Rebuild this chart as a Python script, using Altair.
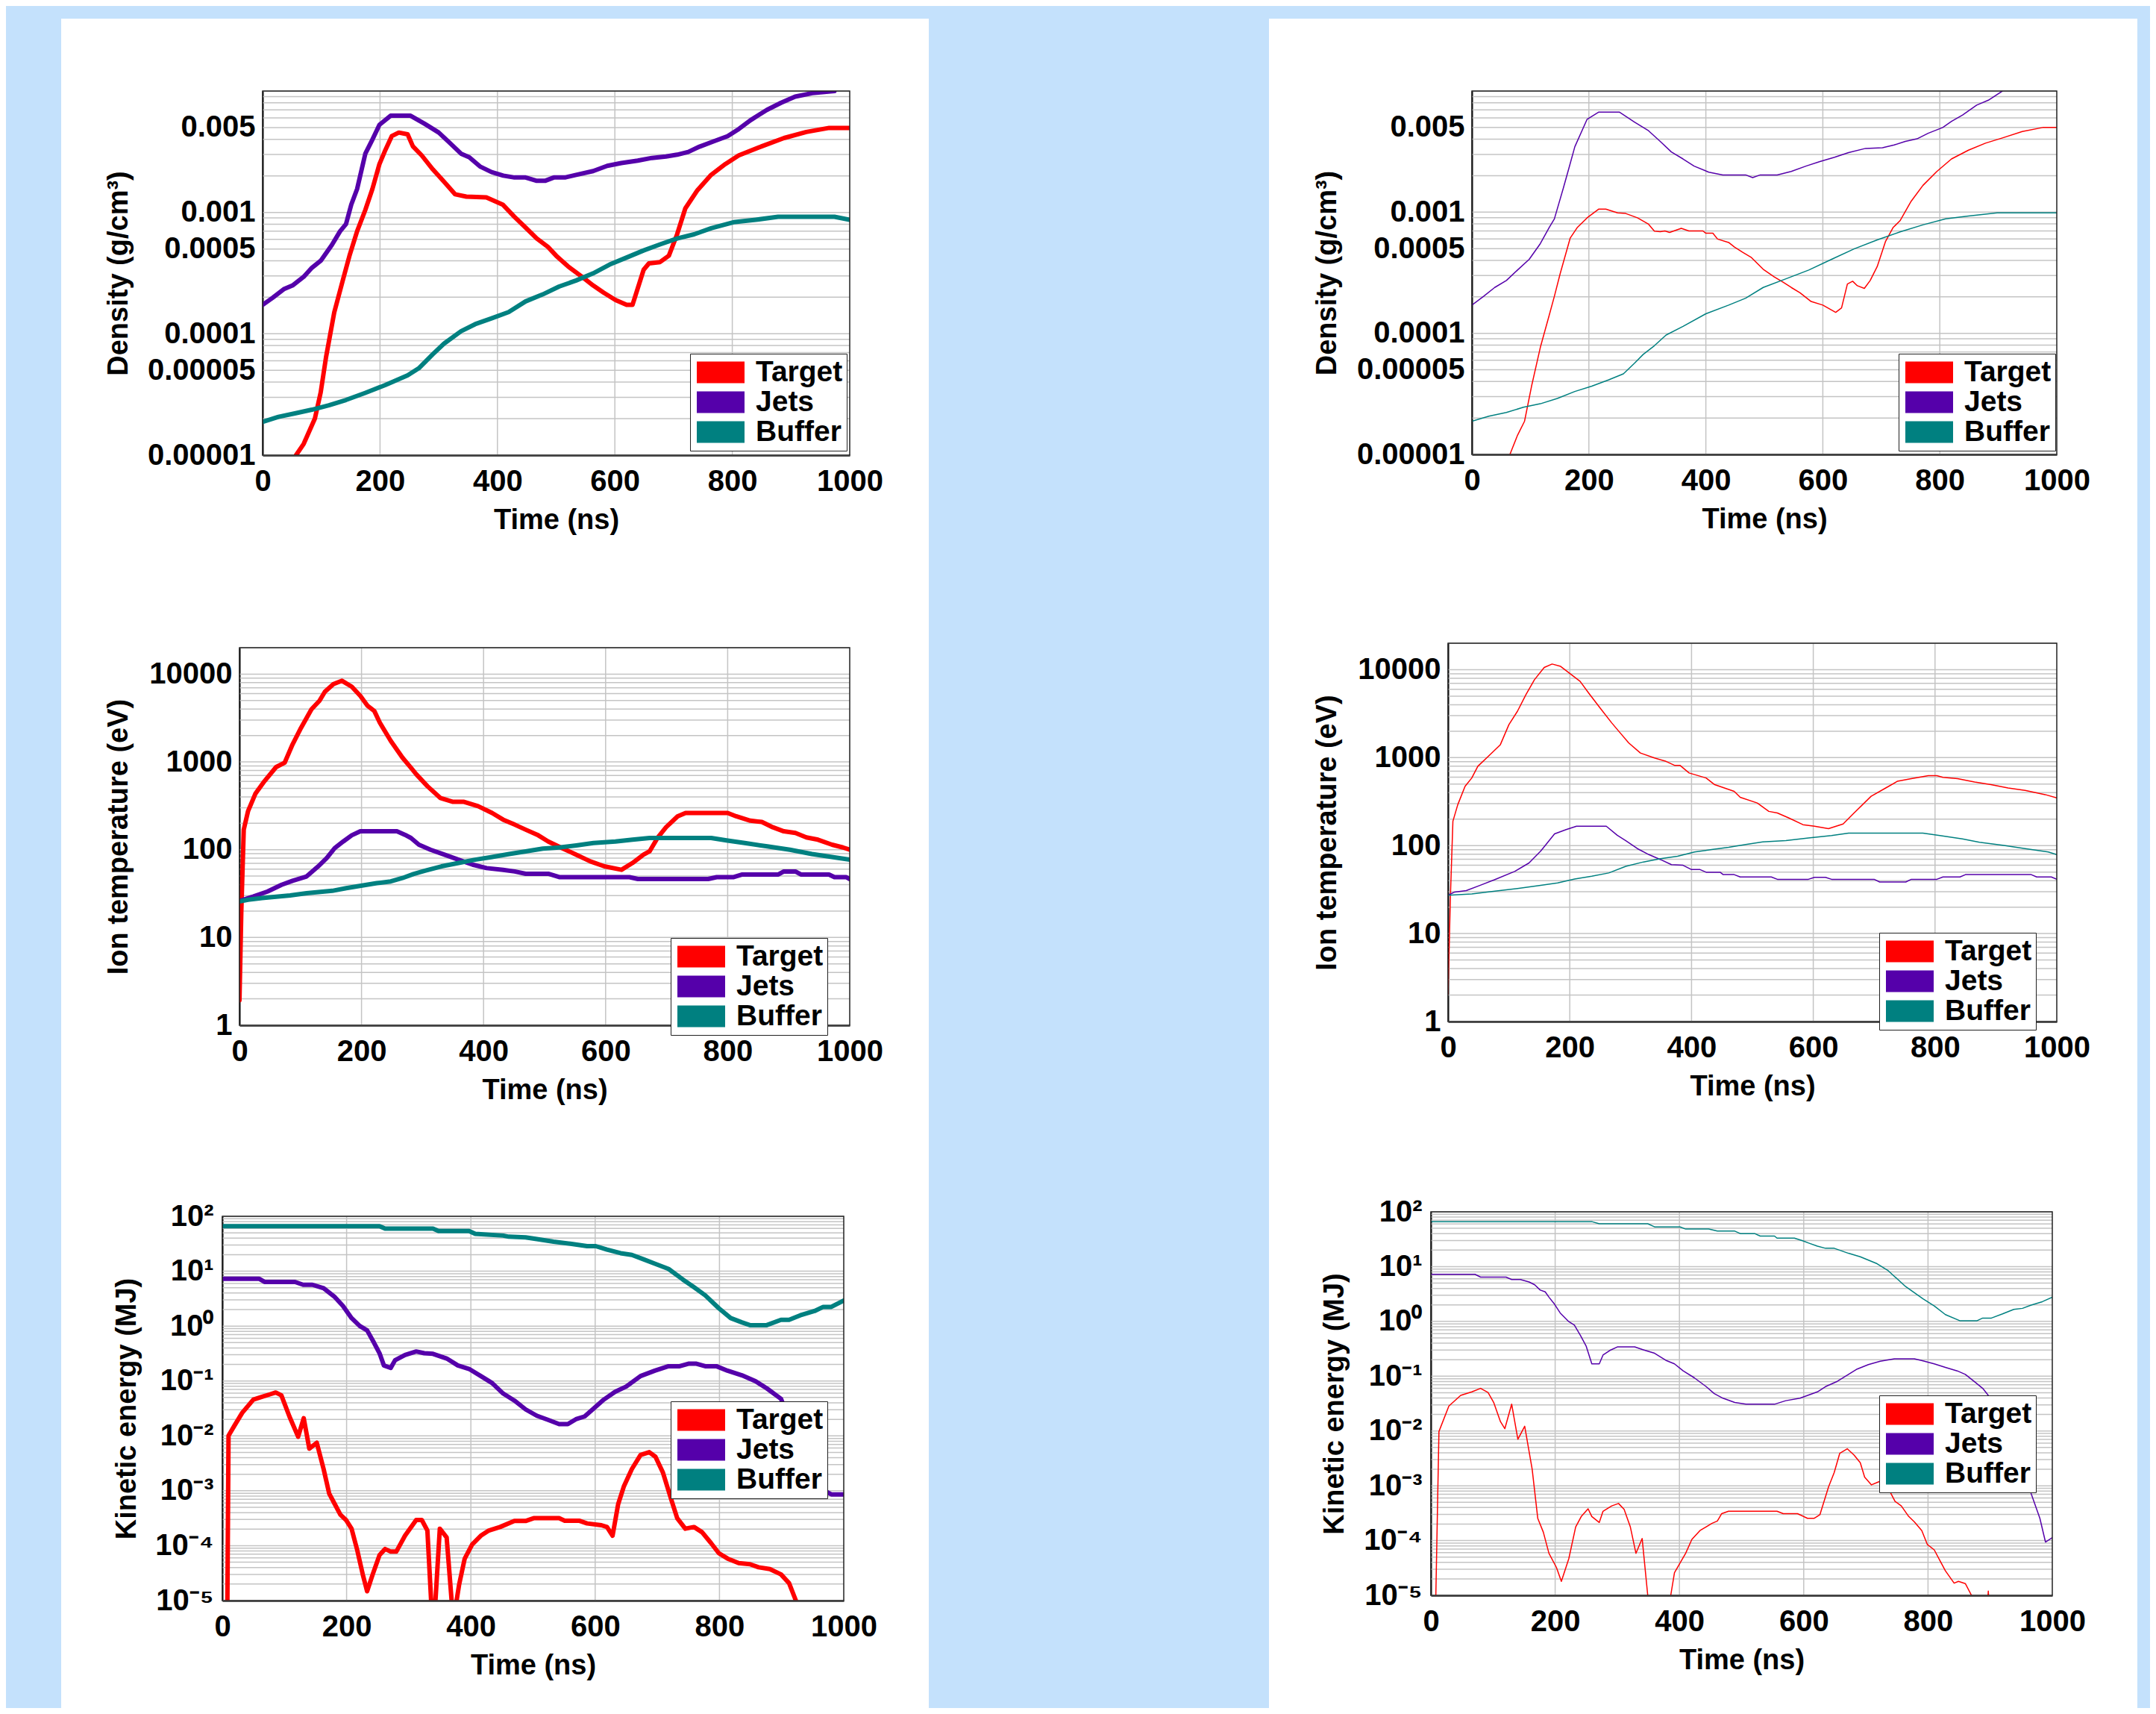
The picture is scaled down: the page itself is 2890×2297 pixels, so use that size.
import math
import altair as alt
import pandas as pd

FONT = "Liberation Sans"
SERIES = ["Target", "Jets", "Buffer"]
COLORS = ["#FF0000", "#5500AA", "#008080"]
BLUE = "#C4E1FC"
GRID = "#C4C4C4"

X_TICKS = [0, 200, 400, 600, 800, 1000]
X_GRID = [200, 400, 600, 800]

DENSITY_DOMAIN = [1e-5, 1e-2]
DENSITY_TICKS = [1e-5, 5e-5, 1e-4, 5e-4, 1e-3, 5e-3]
DENSITY_LABELS = ["0.00001", "0.00005", "0.0001", "0.0005", "0.001", "0.005"]
TEMP_DOMAIN = [1, 20000]
TEMP_TICKS = [1, 10, 100, 1000, 10000]
TEMP_LABELS = ["1", "10", "100", "1000", "10000"]
KE_DOMAIN = [1e-5, 1e2]
KE_TICKS = [1e-5, 1e-4, 1e-3, 1e-2, 0.1, 1, 10, 100]
KE_LABELS = ["10⁻⁵", "10⁻⁴", "10⁻³", "10⁻²", "10⁻¹", "10⁰", "10¹", "10²"]

# ---------------- left column (thick lines) ----------------
DEN_L_TARGET = [(57,1e-5),(70,1.24e-5),(89,2.0e-5),(99,3.3e-5),(108,6.4e-5),(122,1.5e-4),(137,2.8e-4),(148,4.4e-4),(161,7.0e-4),(175,1.05e-3),(187,1.56e-3),(199,2.5e-3),(209,3.26e-3),(220,4.25e-3),(232,4.55e-3),(247,4.4e-3),(256,3.5e-3),(271,2.95e-3),(290,2.26e-3),(309,1.79e-3),(328,1.41e-3),(347,1.35e-3),(381,1.33e-3),(409,1.16e-3),(429,9.2e-4),(448,7.5e-4),(467,6.1e-4),(486,5.2e-4),(500,4.4e-4),(520,3.6e-4),(544,2.95e-4),(563,2.5e-4),(581,2.18e-4),(601,1.9e-4),(620,1.73e-4),(630,1.73e-4),(649,3.37e-4),(658,3.8e-4),(677,3.9e-4),(692,4.4e-4),(706,6.6e-4),(720,1.08e-3),(740,1.51e-3),(764,2.04e-3),(788,2.5e-3),(811,2.95e-3),(850,3.5e-3),(888,4.1e-3),(926,4.6e-3),(965,4.97e-3),(1000,4.97e-3)]
DEN_L_JETS = [(0,1.73e-4),(17,1.98e-4),(36,2.33e-4),(51,2.5e-4),(70,2.95e-4),(84,3.5e-4),(99,4.0e-4),(118,5.4e-4),(132,7.0e-4),(142,8.0e-4),(151,1.16e-3),(161,1.56e-3),(175,3.05e-3),(187,3.98e-3),(199,5.27e-3),(218,6.26e-3),(252,6.26e-3),(276,5.37e-3),(300,4.55e-3),(319,3.73e-3),(338,3.05e-3),(352,2.85e-3),(371,2.38e-3),(390,2.15e-3),(410,2.01e-3),(429,1.94e-3),(448,1.94e-3),(467,1.82e-3),(481,1.82e-3),(496,1.94e-3),(515,1.94e-3),(534,2.04e-3),(563,2.19e-3),(587,2.42e-3),(611,2.55e-3),(639,2.67e-3),(663,2.81e-3),(687,2.89e-3),(706,2.99e-3),(725,3.15e-3),(744,3.48e-3),(768,3.85e-3),(792,4.25e-3),(811,4.86e-3),(831,5.75e-3),(859,7.0e-3),(883,8.0e-3),(907,9.0e-3),(936,9.6e-3),(974,1.0e-2)]
DEN_L_BUFFER = [(0,1.88e-5),(27,2.07e-5),(55,2.21e-5),(84,2.37e-5),(113,2.58e-5),(142,2.85e-5),(175,3.26e-5),(209,3.78e-5),(247,4.55e-5),(266,5.2e-5),(290,6.8e-5),(309,8.3e-5),(338,1.05e-4),(362,1.2e-4),(390,1.34e-4),(419,1.51e-4),(448,1.85e-4),(477,2.11e-4),(505,2.45e-4),(534,2.75e-4),(563,3.15e-4),(591,3.72e-4),(620,4.25e-4),(649,4.86e-4),(677,5.45e-4),(706,6.1e-4),(735,6.6e-4),(764,7.4e-4),(802,8.3e-4),(840,8.7e-4),(878,9.2e-4),(974,9.2e-4),(1000,8.7e-4)]

TMP_L_TARGET = [(0,1.93),(3,19.7),(7,169),(14,274),(26,433),(41,604),(60,873),(74,978),(87,1585),(101,2455),(118,3980),(131,4955),(140,6300),(154,7700),(168,8400),(184,7200),(198,5650),(210,4350),(221,3800),(230,2800),(248,1730),(267,1120),(281,858),(290,720),(308,529),(329,389),(350,351),(368,351),(391,313),(414,262),(432,220),(451,193),(469,169),(488,148),(506,124),(529,104),(552,87.7),(575,73.6),(598,64.6),(626,59),(644,70.5),(662,87.7),(672,95.7),(685,136),(699,180),(718,240),(731,262),(800,262),(814,240),(837,214),(856,207),(874,180),(892,162),(911,155),(929,138),(948,130),(971,114),(989,106),(1000,100)]
TMP_L_JETS = [(0,26.1),(23,29.3),(46,33.4),(69,39.8),(87,44.2),(110,49.6),(129,64.6),(143,80.4),(156,104),(170,124),(184,146),(198,162),(258,162),(271,148),(281,136),(294,114),(313,100),(336,87.7),(359,76.9),(382,67.5),(405,61.7),(432,59),(451,56.5),(469,53.2),(506,53.2),(524,48.7),(639,48.7),(653,46.3),(768,46.3),(782,48.7),(810,48.7),(824,52.2),(883,52.2),(892,56.5),(911,56.5),(920,52.2),(966,52.2),(975,48.7),(994,48.7),(1000,46.3)]
TMP_L_BUFFER = [(0,25.7),(14,26.9),(37,28.1),(83,30.1),(110,32),(152,34),(175,36.5),(225,41.6),(248,43.5),(267,47.5),(285,52.7),(304,57.5),(331,64.6),(359,70.5),(386,76.9),(414,82.5),(442,89.2),(469,95.7),(497,103),(524,106),(552,112),(580,119),(616,124),(644,130),(672,136),(773,136),(800,127),(828,119),(865,109),(902,100),(938,89.2),(975,81.7),(1000,76.9)]

KE_L_TARGET = [(8,5e-6),(10,0.0101),(20,0.0157),(32,0.0263),(50,0.0459),(63,0.051),(77,0.0573),(86,0.0617),(95,0.0548),(108,0.0226),(122,0.00966),(131,0.021),(140,0.00585),(152,0.0075),(163,0.00249),(172,8.9e-4),(181,5.71e-4),(190,3.67e-4),(199,2.94e-4),(208,2.04e-4),(217,8.4e-5),(226,3.0e-5),(233,1.48e-5),(242,3.0e-5),(253,6.76e-5),(262,8.7e-5),(271,7.8e-5),(280,7.8e-5),(294,1.52e-4),(312,2.94e-4),(321,2.94e-4),(330,1.89e-4),(336,1e-5),(337,5e-6),(342,5e-6),(343,1e-5),(350,2.04e-4),(361,1.41e-4),(369,1e-5),(370,5e-6),(376,5e-6),(377,1e-5),(381,1.93e-5),(390,5.8e-5),(402,1.05e-4),(416,1.52e-4),(429,1.89e-4),(447,2.19e-4),(470,2.82e-4),(488,2.82e-4),(501,3.17e-4),(542,3.17e-4),(551,2.85e-4),(574,2.85e-4),(587,2.54e-4),(610,2.36e-4),(619,2.19e-4),(628,1.52e-4),(637,5.71e-4),(646,1.19e-3),(659,2.49e-3),(673,4.49e-3),(687,5.05e-3),(697,4.17e-3),(709,2.15e-3),(723,6.6e-4),(732,3.17e-4),(745,2.04e-4),(759,2.19e-4),(772,1.76e-4),(786,1.13e-4),(799,7.3e-5),(813,5.83e-5),(831,4.82e-5),(849,4.6e-5),(863,4.04e-5),(881,3.75e-5),(899,3.0e-5),(912,2.08e-5),(923,1e-5),(925,5e-6)]
KE_L_JETS = [(0,7.28),(59,7.28),(68,6.37),(117,6.37),(130,5.66),(145,5.66),(163,4.89),(181,3.38),(194,2.34),(208,1.4),(221,1.01),(233,0.835),(244,0.5),(253,0.32),(260,0.192),(271,0.173),(278,0.239),(294,0.298),(312,0.345),(325,0.32),(339,0.312),(361,0.257),(379,0.192),(397,0.166),(416,0.123),(434,0.0919),(452,0.059),(470,0.044),(488,0.0304),(506,0.0233),(524,0.0196),(542,0.0164),(556,0.0164),(569,0.0201),(583,0.0226),(596,0.0304),(614,0.0459),(632,0.0635),(650,0.0793),(673,0.123),(696,0.154),(718,0.186),(736,0.186),(750,0.206),(763,0.206),(777,0.186),(795,0.186),(813,0.154),(836,0.127),(858,0.099),(876,0.0736),(899,0.0473),(953,1.49e-3),(967,1.03e-3),(980,8.6e-4),(1000,8.6e-4)]
KE_L_BUFFER = [(0,66.2),(253,66.2),(262,59.7),(339,59.7),(348,53.8),(397,53.8),(407,47.9),(452,44.5),(461,42.5),(488,41.3),(506,38.4),(533,34.6),(560,31.7),(587,28.6),(601,28.6),(619,24.7),(641,21.3),(659,19.8),(677,16.6),(696,13.7),(718,11),(741,7.06),(759,5.1),(777,3.64),(799,2.11),(818,1.4),(836,1.17),(849,1.04),(876,1.04),(899,1.3),(912,1.3),(930,1.57),(953,1.88),(967,2.24),(980,2.24),(1000,2.92)]

# ---------------- right column (thin lines) ----------------
DEN_R_TARGET = [(65,1e-5),(78,1.44e-5),(90,1.88e-5),(102,3.66e-5),(117,7.65e-5),(132,1.4e-4),(141,2.02e-4),(151,3.12e-4),(168,6.1e-4),(180,7.45e-4),(197,8.98e-4),(217,1.06e-3),(229,1.06e-3),(249,9.87e-4),(263,9.75e-4),(283,8.98e-4),(302,7.96e-4),(312,6.97e-4),(322,6.9e-4),(330,7.0e-4),(338,6.8e-4),(358,7.35e-4),(371,7.0e-4),(395,7.0e-4),(400,6.7e-4),(412,6.7e-4),(420,6.0e-4),(439,5.62e-4),(449,5.15e-4),(463,4.66e-4),(478,4.22e-4),(498,3.38e-4),(517,2.92e-4),(532,2.64e-4),(546,2.39e-4),(561,2.16e-4),(580,1.83e-4),(600,1.71e-4),(622,1.49e-4),(632,1.62e-4),(642,2.55e-4),(651,2.69e-4),(659,2.47e-4),(671,2.35e-4),(681,2.73e-4),(693,3.56e-4),(707,5.7e-4),(720,7.45e-4),(732,8.5e-4),(751,1.23e-3),(771,1.66e-3),(795,2.17e-3),(820,2.75e-3),(849,3.25e-3),(878,3.71e-3),(907,4.1e-3),(941,4.63e-3),(976,5.0e-3),(1000,5.0e-3)]
DEN_R_JETS = [(0,1.71e-4),(20,2.02e-4),(39,2.39e-4),(59,2.73e-4),(78,3.33e-4),(98,4.08e-4),(117,5.5e-4),(132,7.45e-4),(141,8.8e-4),(156,1.56e-3),(166,2.32e-3),(176,3.47e-3),(197,5.85e-3),(217,6.7e-3),(252,6.7e-3),(278,5.55e-3),(302,4.7e-3),(322,3.84e-3),(341,3.14e-3),(361,2.75e-3),(380,2.4e-3),(405,2.14e-3),(429,2.03e-3),(468,2.03e-3),(480,1.93e-3),(493,2.03e-3),(522,2.03e-3),(546,2.17e-3),(571,2.4e-3),(595,2.62e-3),(620,2.84e-3),(644,3.1e-3),(673,3.36e-3),(702,3.4e-3),(722,3.59e-3),(741,3.84e-3),(761,4.03e-3),(780,4.48e-3),(805,5.0e-3),(820,5.62e-3),(839,6.34e-3),(863,7.65e-3),(883,8.4e-3),(907,1.0e-2)]
DEN_R_BUFFER = [(0,1.88e-5),(29,2.07e-5),(59,2.22e-5),(88,2.45e-5),(117,2.62e-5),(146,2.9e-5),(176,3.31e-5),(205,3.66e-5),(234,4.13e-5),(259,4.63e-5),(278,5.66e-5),(293,6.7e-5),(312,7.9e-5),(332,9.67e-5),(361,1.14e-4),(400,1.45e-4),(439,1.71e-4),(468,1.95e-4),(498,2.39e-4),(537,2.82e-4),(576,3.33e-4),(615,4.08e-4),(654,4.99e-4),(693,5.9e-4),(732,6.87e-4),(771,7.85e-4),(810,8.8e-4),(849,9.3e-4),(898,9.86e-4),(1000,9.86e-4)]

TMP_R_TARGET = [(0,2.03),(4,27.7),(8,189),(16,292),(28,472),(39,587),(49,798),(72,1131),(86,1406),(100,2371),(114,3363),(128,5200),(142,7700),(158,10600),(171,11600),(185,10900),(199,9170),(217,7360),(231,5430),(250,3660),(269,2480),(283,1905),(297,1468),(316,1130),(339,991),(358,908),(372,818),(381,818),(396,670),(424,587),(438,493),(470,414),(480,354),(508,305),(527,245),(541,235),(560,206),(583,173),(602,166),(625,156),(649,176),(667,235),(695,364),(719,452),(738,538),(761,577),(789,624),(803,624),(813,597),(837,577),(865,528),(892,493),(920,452),(948,425),(981,380),(1000,348)]
TMP_R_JETS = [(0,27.3),(11,29.7),(30,30.8),(53,35.4),(77,41.1),(110,51.1),(133,63.5),(152,86.2),(161,103),(175,136),(194,152),(211,166),(260,166),(278,131),(292,114),(311,92.5),(330,79),(349,69.4),(367,60.8),(386,59.8),(400,53.4),(414,53.4),(424,49.8),(447,49.8),(452,46.8),(470,46.8),(480,44),(531,44),(541,41.4),(592,41.4),(602,43.6),(620,43.6),(630,41.4),(700,41.4),(709,38.6),(752,38.6),(761,41.4),(803,41.4),(813,44),(841,44),(850,46.8),(958,46.8),(967,44),(991,44),(1000,41.4)]
TMP_R_BUFFER = [(0,27.3),(39,28.2),(77,30.3),(114,32.5),(152,35.4),(180,37.6),(208,41.8),(236,44.9),(264,48.9),(292,58.2),(321,65.2),(349,71.1),(377,75.7),(405,84.7),(433,90.1),(461,95.8),(489,103),(517,110),(555,114),(592,122),(630,130),(658,139),(780,139),(808,130),(845,119),(873,109),(911,101),(948,92.5),(986,84.7),(1000,79)]

KE_R_TARGET = [(6,5e-6),(8,1e-5),(13,0.0098),(29,0.0286),(48,0.0447),(66,0.0518),(80,0.06),(92,0.0503),(101,0.0333),(112,0.0148),(119,0.011),(130,0.0309),(140,0.00706),(151,0.0122),(163,0.00201),(172,2.55e-4),(181,1.42e-4),(190,5.85e-5),(202,3.24e-5),(210,1.8e-5),(222,4.69e-5),(233,1.77e-4),(242,2.75e-4),(253,3.8e-4),(259,2.75e-4),(271,2.14e-4),(277,3.43e-4),(291,4.29e-4),(302,4.75e-4),(311,3.7e-4),(321,1.77e-4),(330,5.85e-5),(340,1.09e-4),(349,1e-5),(350,5e-6),(385,5e-6),(386,1e-5),(392,2.6e-5),(410,5.85e-5),(420,1.05e-4),(433,1.52e-4),(452,2.05e-4),(461,2.27e-4),(468,3.1e-4),(479,3.43e-4),(557,3.43e-4),(567,3.1e-4),(590,3.1e-4),(606,2.55e-4),(617,2.55e-4),(626,2.96e-4),(640,9.6e-4),(649,1.74e-3),(658,3.92e-3),(670,4.74e-3),(681,3.63e-3),(691,2.63e-3),(698,1.44e-3),(709,1.04e-3),(718,1.15e-3),(729,1.29e-3),(736,8.95e-4),(747,5.19e-4),(757,4.29e-4),(769,2.75e-4),(778,2.2e-4),(790,1.52e-4),(799,8.45e-5),(810,6.77e-5),(819,4.36e-5),(828,2.8e-5),(842,1.67e-5),(849,1.8e-5),(860,1.64e-5),(870,1e-5),(871,5e-6),(895,5e-6),(897,1.2e-5),(899,5e-6)]
KE_R_JETS = [(0,7.24),(71,7.24),(80,6.43),(121,6.43),(130,5.8),(144,5.8),(158,5.24),(167,4.66),(176,3.73),(184,3.46),(190,2.77),(199,2.06),(208,1.43),(222,0.99),(231,0.853),(241,0.548),(250,0.352),(259,0.168),(271,0.168),(277,0.243),(288,0.295),(300,0.342),(328,0.342),(342,0.303),(360,0.262),(378,0.195),(392,0.168),(406,0.125),(424,0.0933),(443,0.0645),(456,0.0481),(470,0.0396),(489,0.0332),(507,0.0308),(553,0.0308),(571,0.0357),(594,0.0396),(622,0.0518),(635,0.0645),(654,0.0805),(672,0.108),(686,0.135),(704,0.163),(723,0.187),(746,0.207),(778,0.207),(792,0.19),(810,0.168),(828,0.145),(847,0.125),(860,0.108),(874,0.0805),(888,0.06),(897,0.0447),(952,1.74e-3),(966,7.18e-4),(980,2.55e-4),(989,9.4e-5),(1000,1.13e-4)]
KE_R_BUFFER = [(0,66.2),(259,66.2),(271,60.5),(349,60.5),(360,53.1),(401,53.1),(410,48.5),(447,48.5),(461,44.5),(489,44.5),(498,40.1),(521,40.1),(530,36.1),(553,36.1),(557,33.1),(585,33.1),(599,29.4),(608,26.9),(622,23.6),(635,21.6),(649,21.6),(672,17.5),(691,15.1),(718,11.3),(736,8.4),(764,4.32),(792,2.58),(810,1.92),(828,1.33),(851,1.03),(879,1.03),(888,1.15),(902,1.15),(920,1.37),(938,1.66),(952,1.73),(966,1.98),(984,2.29),(1000,2.77)]

# ---------------- page layout (page pixels) ----------------
ROW_BANDS = [(8, 745), (745, 1545), (1545, 2289)]
TOP_STRIP = (8, 25)
LEFT_BLUE = [(9, 82), (1245, 1473)]
RIGHT_BLUE = [(1474, 1701), (2865, 2882)]
LEFT_WHITE = (82, 1245)
RIGHT_WHITE = (1701, 2865)


def log_grid(lo, hi):
    vals = []
    k = int(math.floor(math.log10(lo)))
    while float(f"1e{k}") <= hi * 1.0001:
        for m in range(1, 10):
            v = float(f"{m}e{k}")
            if lo * 0.9999 <= v <= hi * 1.0001:
                vals.append(v)
        k += 1
    return vals


def label_expr(ticks, labels):
    s = "''"
    for v, lab in zip(ticks, labels):
        s = f"(datum.value == {repr(float(v))} ? '{lab}' : {s})"
    return s


ONE = pd.DataFrame({"k": [0]})


def rect_layer(x0, x1, y0, y1, color):
    return alt.Chart(ONE).mark_rect(color=color).encode(
        x=alt.value(x0), x2=alt.value(x1), y=alt.value(y0), y2=alt.value(y1))


def panel(series, ydomain, yticks, ylabels, ytitle, geom, row, col, title_x,
          legend_xy, sw, ylabpad=10):
    L, T, W, H = geom
    rows = []
    for name, pts in zip(SERIES, series):
        for t, v in pts:
            rows.append({"t": t, "v": v, "series": name})
    df = pd.DataFrame(rows)
    xs = alt.Scale(domain=[0, 1000], nice=False, zero=False)
    ys = alt.Scale(type="log", domain=ydomain, nice=False)
    cs = alt.Scale(domain=SERIES, range=COLORS)

    layers = []
    b0, b1 = ROW_BANDS[row]
    blues = LEFT_BLUE if col == 0 else RIGHT_BLUE
    white = LEFT_WHITE if col == 0 else RIGHT_WHITE
    for (a, b) in blues:
        layers.append(rect_layer(a - L, b - L, b0 - T, b1 - T, BLUE))
    if row == 0:
        layers.append(rect_layer(white[0] - L, white[1] - L,
                                 TOP_STRIP[0] - T, TOP_STRIP[1] - T, BLUE))

    layers.append(alt.Chart(pd.DataFrame({"g": X_GRID})).mark_rule(
        color=GRID, strokeWidth=1.5).encode(x=alt.X("g:Q", scale=xs)))
    layers.append(alt.Chart(pd.DataFrame({"g": log_grid(*ydomain)})).mark_rule(
        color=GRID, strokeWidth=1.5).encode(y=alt.Y("g:Q", scale=ys)))

    legend = alt.Legend(orient="none", legendX=legend_xy[0], legendY=legend_xy[1],
                        direction="vertical", title=None,
                        symbolType="M-1.6,-0.725H1.6V0.725H-1.6Z", symbolSize=1600,
                        symbolStrokeWidth=0, symbolOpacity=1, symbolOffset=16,
                        labelFont=FONT, labelFontSize=39, labelFontWeight="bold",
                        labelColor="black", labelOffset=27, rowPadding=-15,
                        padding=5, fillColor="white", strokeColor="#222222",
                        labelLimit=300)
    inside = df[(df["v"] >= ydomain[0]) & (df["v"] <= ydomain[1])]
    layers.append(alt.Chart(inside).mark_square(opacity=0, clip=True).encode(
        x=alt.X("t:Q", scale=xs),
        y=alt.Y("v:Q", scale=ys),
        color=alt.Color("series:N", scale=cs, legend=legend),
    ))

    xaxis = alt.Axis(values=X_TICKS, format="d", grid=False, ticks=False, tickSize=0,
                     domainColor="#555555", domainWidth=3,
                     labelFont=FONT, labelFontSize=40, labelFontWeight="bold",
                     labelColor="black", labelPadding=35, labelBaseline="middle",
                     labelFlush=False, labelOverlap=False, labelAngle=0,
                     title="Time (ns)", titleFont=FONT, titleFontSize=38,
                     titleFontWeight="bold", titleColor="black",
                     titleY=87, titleBaseline="middle")
    yaxis = alt.Axis(values=yticks, grid=False, ticks=False, tickSize=0,
                     domainColor="black", domainWidth=2,
                     labelFont=FONT, labelFontSize=40, labelFontWeight="bold",
                     labelColor="black", labelPadding=ylabpad, labelOverlap=False,
                     labelFlush=False, labelExpr=label_expr(yticks, ylabels),
                     title=ytitle, titleFont=FONT, titleFontSize=38,
                     titleFontWeight="bold", titleColor="black",
                     titleX=title_x, titleBaseline="middle", titleAngle=270)

    layers.append(alt.Chart(df).mark_line(
        clip=True, strokeWidth=sw, strokeJoin="round", strokeCap="round").encode(
        x=alt.X("t:Q", scale=xs, axis=xaxis),
        y=alt.Y("v:Q", scale=ys, axis=yaxis),
        color=alt.Color("series:N", scale=cs),
    ))

    layers.append(alt.Chart(ONE).mark_rect(
        fillOpacity=0, stroke="#222222", strokeWidth=1.5).encode(
        x=alt.value(0), x2=alt.value(W), y=alt.value(0), y2=alt.value(H)))
    return alt.layer(*layers).properties(width=W, height=H)


def spacer(row, T):
    b0, b1 = ROW_BANDS[row]
    return alt.Chart(ONE).mark_rect(color=BLUE).encode(
        x=alt.value(0), x2=alt.value(1), y=alt.value(b0 - T), y2=alt.value(b1 - T)
    ).properties(width=1, height=1)


GEOM = {
    "p1": (352, 122, 787, 488), "p2": (321, 868, 818, 506), "p3": (298, 1630, 833, 515),
    "p4": (1973, 122, 784, 487), "p5": (1941, 862, 816, 507), "p6": (1918, 1624, 833, 514),
}

p1 = panel([DEN_L_TARGET, DEN_L_JETS, DEN_L_BUFFER], DENSITY_DOMAIN, DENSITY_TICKS,
           DENSITY_LABELS, "Density (g/cm³)", GEOM["p1"], 0, 0, -193, (573, 352), 6)
p2 = panel([TMP_L_TARGET, TMP_L_JETS, TMP_L_BUFFER], TEMP_DOMAIN, TEMP_TICKS,
           TEMP_LABELS, "Ion temperature (eV)", GEOM["p2"], 1, 0, -162, (578, 389), 6)
p3 = panel([KE_L_TARGET, KE_L_JETS, KE_L_BUFFER], KE_DOMAIN, KE_TICKS,
           KE_LABELS, "Kinetic energy (MJ)", GEOM["p3"], 2, 0, -128, (601, 248), 6,
           ylabpad=12)

p4 = panel([DEN_R_TARGET, DEN_R_JETS, DEN_R_BUFFER], DENSITY_DOMAIN, DENSITY_TICKS,
           DENSITY_LABELS, "Density (g/cm³)", GEOM["p4"], 0, 1, -194, (572, 352), 1.5)
p5 = panel([TMP_R_TARGET, TMP_R_JETS, TMP_R_BUFFER], TEMP_DOMAIN, TEMP_TICKS,
           TEMP_LABELS, "Ion temperature (eV)", GEOM["p5"], 1, 1, -162, (578, 388), 1.5)
p6 = panel([KE_R_TARGET, KE_R_JETS, KE_R_BUFFER], KE_DOMAIN, KE_TICKS,
           KE_LABELS, "Kinetic energy (MJ)", GEOM["p6"], 2, 1, -129, (601, 246), 1.5,
           ylabpad=12)

left = alt.concat(spacer(0, GEOM["p1"][1]), p1, spacer(1, GEOM["p2"][1]), p2,
                  spacer(2, GEOM["p3"][1]), p3, columns=2, align="none",
                  spacing=0).resolve_scale(color="independent")
right = alt.concat(spacer(0, GEOM["p4"][1]), p4, spacer(1, GEOM["p5"][1]), p5,
                   spacer(2, GEOM["p6"][1]), p6, columns=2, align="none",
                   spacing=0).resolve_scale(color="independent")

chart = alt.hconcat(left, right, spacing=0).resolve_scale(
    color="independent"
).properties(
    padding=0,
    background="white",
).configure_view(stroke="transparent", strokeWidth=0)

chart.save("out.html", embed_options={"renderer": "svg", "actions": False})
